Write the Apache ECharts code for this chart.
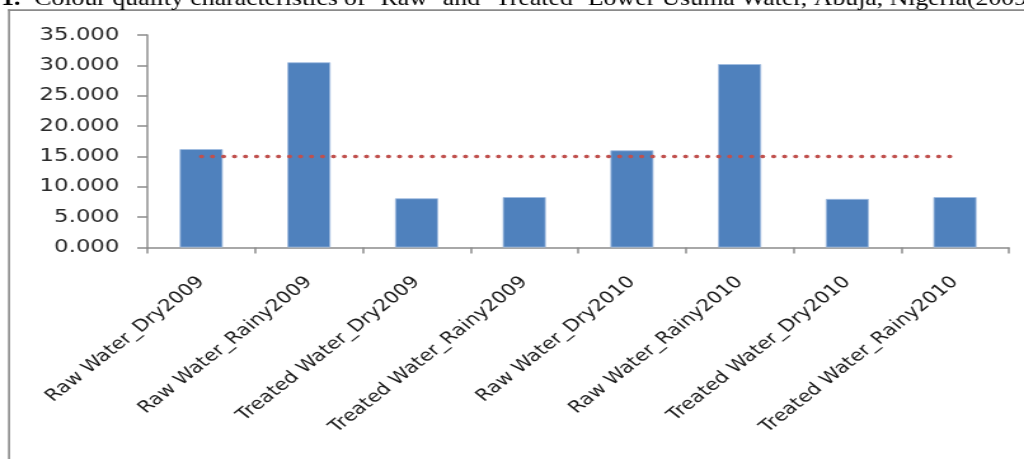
<!DOCTYPE html>
<html>
<head>
<meta charset="utf-8">
<script src="https://cdn.jsdelivr.net/npm/echarts@6/dist/echarts.min.js"></script>
<style>
  html, body { margin: 0; padding: 0; background: #fff; overflow: hidden; }
  #wrap { width: 1024px; height: 459px; overflow: hidden; position: relative; }
  /* the chart is laid out on a narrower canvas and widened to the page */
  #chart { width: 806px; height: 459px; transform: scaleX(1.2705); transform-origin: 0 0; }
</style>
</head>
<body>
<div id="wrap"><div id="chart"></div></div>
<script>
// Sample categories (season and year, raw vs treated water)
const categories = [
  'Raw Water_Dry2009',
  'Raw Water_Rainy2009',
  'Treated Water_Dry2009',
  'Treated Water_Rainy2009',
  'Raw Water_Dry2010',
  'Raw Water_Rainy2010',
  'Treated Water_Dry2010',
  'Treated Water_Rainy2010'
];
// Measured colour for each sample
const colourValues = [16.2, 30.5, 8.1, 8.3, 16.0, 30.2, 8.0, 8.3];
// Permissible limit drawn as a dotted reference line
const limitValues = [15, 15, 15, 15, 15, 15, 15, 15];
// Value-axis range and step
const yMin = 0;
const yMax = 35;
const yStep = 5;

const captionNumber = '1.';
const captionText = 'Colour quality characteristics of \u2018Raw\u2019 and \u2018Treated\u2019 Lower Usuma Water, Abuja, Nigeria(2009-2010)';

const chart = echarts.init(document.getElementById('chart'), null, { renderer: 'canvas' });

chart.setOption({
  animation: false,
  backgroundColor: '#ffffff',
  grid: { left: 116, right: 12, top: 35, bottom: 211.5, containLabel: false },
  xAxis: {
    type: 'category',
    data: categories,
    boundaryGap: true,
    axisLine: { show: true, lineStyle: { color: '#8c8c8c', width: 1.5 } },
    axisTick: { show: true, interval: 0, alignWithLabel: false, length: 6, lineStyle: { color: '#8c8c8c', width: 1.5 } },
    axisLabel: {
      interval: 0,
      rotate: 45,
      margin: 32,
      color: '#1a1a1a',
      fontFamily: 'DejaVu Sans',
      fontSize: 16.6
    },
    splitLine: { show: false }
  },
  yAxis: {
    type: 'value',
    min: yMin,
    max: yMax,
    interval: yStep,
    axisLine: { show: true, lineStyle: { color: '#8c8c8c', width: 1.5 } },
    axisTick: { show: true, length: 8, lineStyle: { color: '#8c8c8c', width: 1.5 } },
    axisLabel: {
      margin: 22,
      color: '#2a2a2a',
      fontFamily: 'DejaVu Sans',
      fontSize: 18,
      formatter: v => v.toFixed(3)
    },
    splitLine: { show: false }
  },
  series: [
    {
      name: 'Colour',
      type: 'bar',
      data: colourValues,
      barWidth: '40%',
      itemStyle: { color: '#4f81bd', borderColor: '#9fbbe0', borderWidth: 0.8 }
    },
    {
      name: 'Limit',
      type: 'line',
      data: limitValues,
      symbol: 'none',
      z: 5,
      lineStyle: { color: '#c0504d', width: 3.6, type: [0.5, 8.16], cap: 'round' }
    }
  ],
  graphic: [
    // frame around the figure
    { type: 'rect', shape: { x: 6.3, y: 9.2, width: 1.6, height: 460 }, style: { fill: '#8a8a8a' }, silent: true, z: 10 },
    { type: 'rect', shape: { x: 6.3, y: 9.2, width: 820, height: 1.8 }, style: { fill: '#8a8a8a' }, silent: true, z: 10 },
    // figure caption running across the top edge
    { type: 'text', x: 1, y: 9.5, style: { text: captionNumber, font: 'bold 20px "Liberation Serif"', fill: '#000', verticalAlign: 'bottom' }, silent: true, z: 11 },
    { type: 'text', x: 27, y: 9.5, style: { text: captionText, font: '20.3px "Liberation Serif"', fill: '#000', verticalAlign: 'bottom' }, silent: true, z: 11 }
  ]
});
</script>
</body>
</html>
